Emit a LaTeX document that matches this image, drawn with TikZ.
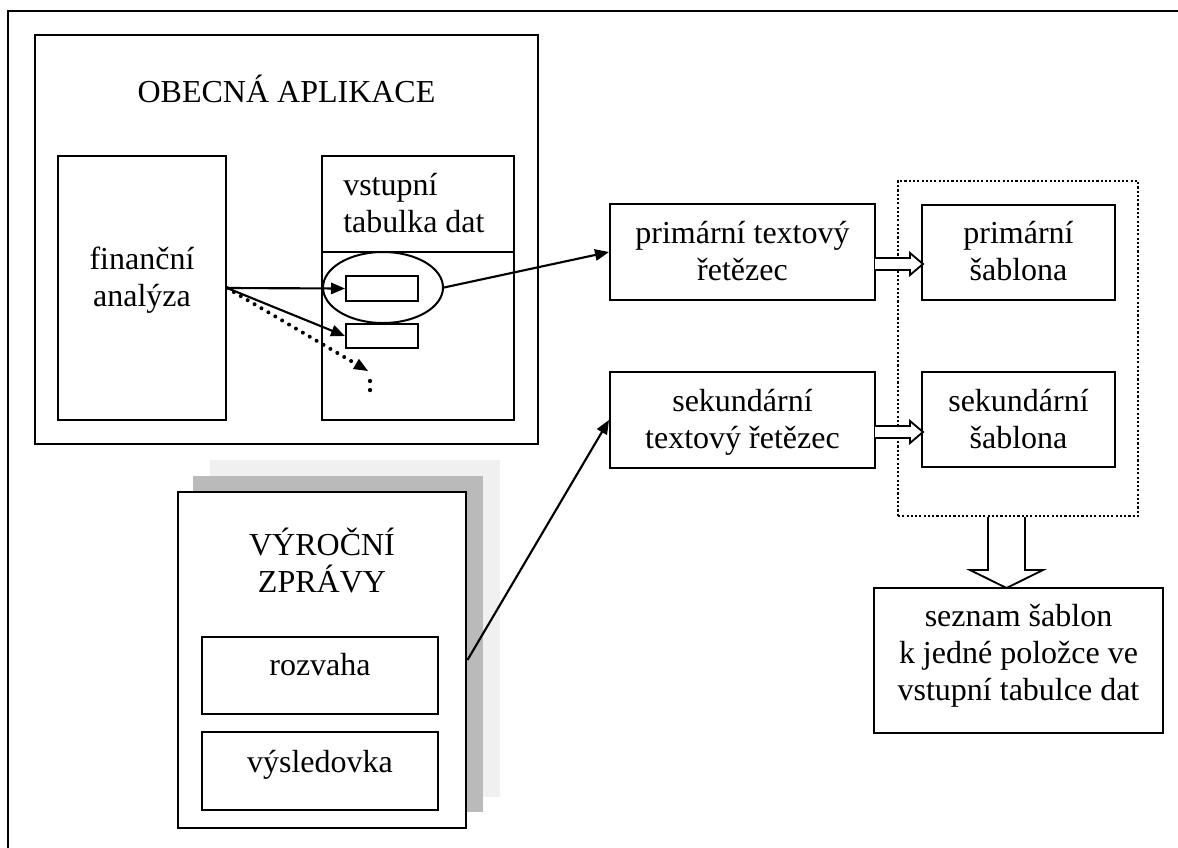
\documentclass[tikz,border=0pt]{standalone}
\usepackage{fontspec}
\setmainfont{Liberation Serif}
\usetikzlibrary{arrows.meta,shapes.geometric,fit,calc}
\begin{document}
\begin{tikzpicture}[x=0.75pt,y=-0.75pt,
  every node/.style={font=\fontsize{24}{27.6}\selectfont},
  thickbox/.style={draw, line width=2.2pt, inner sep=0pt},
  box/.style={draw, line width=1.5pt, inner sep=0pt},
  lbl/.style={inner sep=0pt, anchor=base, align=center},
  tip/.style={-{Triangle[length=10.5pt,width=8.5pt]}},
  arr/.style={line width=1.6pt, tip},
  dotline/.style={line width=3pt, line cap=round, dash pattern=on 0pt off 6pt},
  vdots/.style={line width=3.2pt, line cap=round, dash pattern=on 0pt off 6.8pt},
  groupbox/.style={draw, line width=1.8pt, dash pattern=on 1.6pt off 1.6pt, inner sep=0pt},
  blockarrow/.style={draw, line width=1.4pt, fill=white, line join=miter},
  sheetlight/.style={fill=black!6},
  sheetdark/.style={fill=black!27}
]
\useasboundingbox (0,0) rectangle (1178,847);
\clip (0,0) rectangle (1178,847);

% outer frame (runs past the page on the right and bottom)
\draw[line width=2.2pt] (8,11) rectangle (1200,880);

% ---- general application ----
\node[thickbox, fit={(35,35) (538,444)}] (app) {};
\node[lbl] (apptitle) at (286.5,102) {OBECNÁ APLIKACE};

\node[box, fit={(58,156) (226,420)}] (fin) {};
\node[lbl] (fintext) at (142,306) {finanční\\analýza};

\node[box, fit={(322,156) (514,420)}] (tab) {};
\draw[line width=1.5pt] (tab.west |- 0,252) -- (tab.east |- 0,252);
\node[inner sep=0pt, anchor=base west, align=left] (tabtext) at (343,232) {vstupní\\tabulka dat};

\node[box, fit={(346,276) (418,301)}] (r1) {};
\node[box, fit={(346,324) (418,348)}] (r2) {};
\node[draw, ellipse, line width=1.5pt, inner sep=0pt,
      minimum width=90pt, minimum height=53.25pt] (ell) at (383,287.5) {};

\coordinate (dotend) at (368,371);
\coordinate (moretop) at (370,381);
\coordinate (morebot) at (370,392);

\draw[arr] (fin.east) -- (r1.west);
\draw[arr] (fin.east) -- (r2.west);
\draw[dotline] (fin.east) -- ($(fin.east)!0.9!(dotend)$);
\draw[line width=1.2pt, tip] ($(fin.east)!0.92!(dotend)$) -- (dotend);
\draw[vdots] (moretop) -- (morebot);

% ---- annual reports (stacked sheets) ----
\fill[sheetlight] (210,460) rectangle (500,797);
\fill[sheetdark] (193,476) rectangle (483,812);
\node[thickbox, fill=white, fit={(178,492) (466,828)}] (vr) {};
\node[lbl] (vrtext) at (322,592) {VÝROČNÍ\\ZPRÁVY};
\node[box, fit={(202,637) (438,714)}] (roz) {};
\node[lbl] (roztext) at (320,675) {rozvaha};
\node[box, fit={(202,732) (438,810)}] (vys) {};
\node[lbl] (vystext) at (320,772) {výsledovka};

% ---- text strings ----
\node[box, fit={(610,204) (875,300)}] (pt) {};
\node[lbl] (pttext) at (742.5,280) {primární textový\\řetězec};
\node[box, fit={(610,372) (875,468)}] (st) {};
\node[lbl] (sttext) at (742.5,448) {sekundární\\textový řetězec};

\draw[arr] (ell.east) -- (pt.west);
\draw[arr] (vr.east) -- (st.west);

% ---- templates ----
\node[groupbox, fit={(898,181) (1138,516)}] (grp) {};
\node[box, fit={(922,205) (1115,300)}] (ps) {};
\node[lbl] (pstext) at (1018.5,280) {primární\\šablona};
\node[box, fit={(922,372) (1115,467)}] (ss) {};
\node[lbl] (sstext) at (1018.5,448) {sekundární\\šablona};

\draw[blockarrow] (875,258) -- (910,258) -- (910,253) -- (923,264)
  -- (910,275) -- (910,270) -- (875,270);
\draw[blockarrow] (875,426) -- (910,426) -- (910,421) -- (923,432)
  -- (910,443) -- (910,438) -- (875,438);

% ---- template list ----
\node[box, fit={(874,588) (1163,733)}] (list) {};
\node[lbl] (listtext) at (1018.5,700) {seznam šablon\\k jedné položce ve\\vstupní tabulce dat};

\draw[blockarrow] (988,517) -- (988,570) -- (970,570) -- (1006.5,588)
  -- (1043,570) -- (1025,570) -- (1025,517);
\end{tikzpicture}
\end{document}
